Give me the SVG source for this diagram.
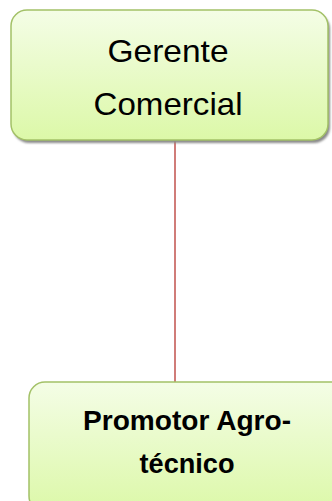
<svg xmlns="http://www.w3.org/2000/svg" width="332" height="501" viewBox="0 0 332 501">
  <defs>
    <linearGradient id="boxFill" x1="0" y1="0" x2="0" y2="1">
      <stop offset="0" stop-color="#F4FDE6"/>
      <stop offset="1" stop-color="#DCF8A8"/>
    </linearGradient>
    <filter id="shadowBlur" x="-10%" y="-10%" width="120%" height="120%">
      <feGaussianBlur stdDeviation="1"/>
    </filter>
  </defs>
  <style>
    .box { fill: url(#boxFill); stroke: #A3C167; stroke-width: 1.5; }
    .shadow { fill: #8A8A8A; filter: url(#shadowBlur); }
    .label { font-family: "Liberation Sans", Arial, sans-serif; fill: #000; text-anchor: middle; }
    .title { font-size: 32px; }
    .bold { font-size: 28px; font-weight: bold; }
    .link { stroke: #C0504D; stroke-width: 1.5; fill: none; }
  </style>
  <rect width="332" height="501" fill="#FFFFFF"/>

  <g id="connectors">
    <line class="link" x1="175" y1="140" x2="175" y2="382"/>
  </g>

  <g id="gerente-comercial">
    <rect class="shadow" x="13" y="13" width="317" height="130" rx="16"/>
    <rect class="box" x="11" y="10" width="317" height="130" rx="16"/>
    <text class="label title" x="168" y="62" textLength="121" lengthAdjust="spacingAndGlyphs">Gerente</text>
    <text class="label title" x="168" y="115" textLength="149" lengthAdjust="spacingAndGlyphs">Comercial</text>
  </g>

  <g id="promotor-agrotecnico">
    <rect class="shadow" x="31" y="385" width="320" height="130" rx="16"/>
    <rect class="box" x="29" y="382" width="320" height="130" rx="16"/>
    <text class="label bold" x="187" y="430" textLength="208" lengthAdjust="spacingAndGlyphs">Promotor Agro-</text>
    <text class="label bold" x="187" y="473" textLength="95" lengthAdjust="spacingAndGlyphs">técnico</text>
  </g>
</svg>
